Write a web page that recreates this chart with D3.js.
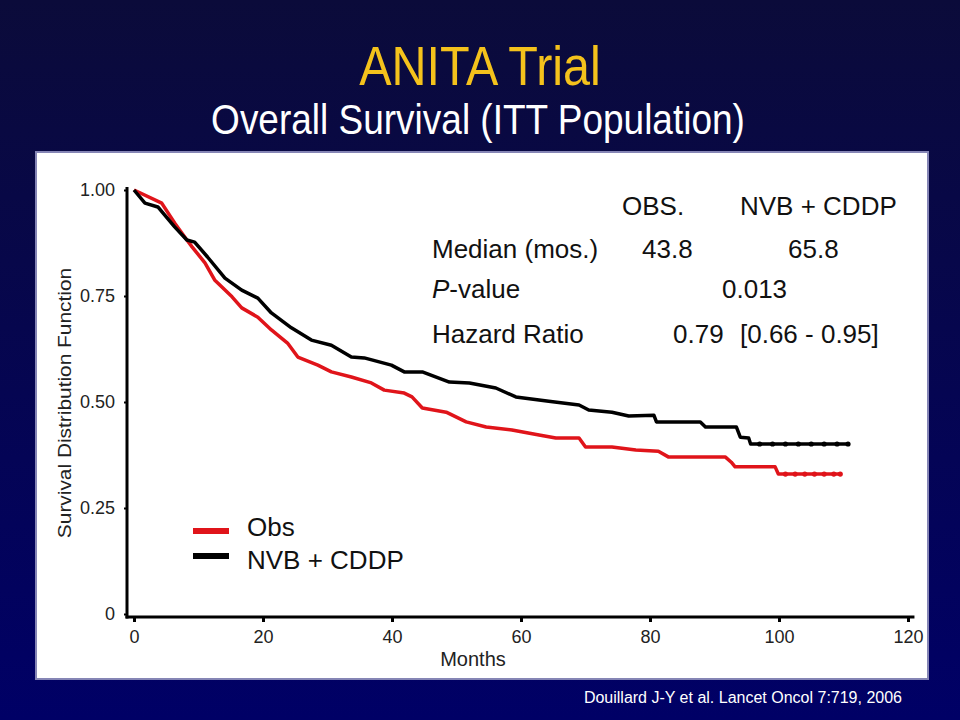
<!DOCTYPE html>
<html>
<head>
<meta charset="utf-8">
<script src="https://cdn.jsdelivr.net/npm/d3@7/dist/d3.min.js"></script>
<style>
  html, body { margin: 0; padding: 0; background: #000050; }
  svg { display: block; }
  text { font-family: Arial, "Liberation Sans", Helvetica, sans-serif; }
</style>
</head>
<body>
<svg id="chart" width="960" height="720"></svg>
<script>
// ---- Data ----
const nvbTime = [0, 1.7, 3.7, 6.3, 8.2, 9.4, 11.4, 14.1, 16.7, 19.2, 21.3, 24.4, 27.5, 30.6, 33.7, 35.7, 39.9, 41.9, 44.7, 48.9, 52.0, 56.1, 59.2, 64.3, 69.0, 70.5, 74.1, 76.7, 80.6, 81.0, 87.8, 88.6, 93.4, 94.0, 95.3, 95.6, 110.7];
const nvbSurv = [1.0, 0.969, 0.960, 0.913, 0.882, 0.877, 0.842, 0.792, 0.764, 0.745, 0.710, 0.675, 0.646, 0.634, 0.606, 0.604, 0.587, 0.571, 0.571, 0.547, 0.545, 0.533, 0.512, 0.502, 0.493, 0.481, 0.476, 0.467, 0.469, 0.453, 0.453, 0.441, 0.441, 0.417, 0.415, 0.401, 0.401];
const obsTime = [0, 4.3, 6.3, 8.2, 9.0, 11.0, 12.5, 15.2, 16.7, 19.2, 21.3, 23.8, 25.4, 28.5, 30.6, 33.7, 36.8, 38.8, 41.9, 43.1, 44.7, 48.4, 51.5, 54.6, 58.6, 62.8, 65.4, 69.0, 70.0, 74.1, 77.8, 81.3, 82.9, 91.7, 92.6, 93.2, 99.4, 99.9, 109.5];
const obsSurv = [1.0, 0.969, 0.922, 0.882, 0.866, 0.828, 0.788, 0.748, 0.722, 0.700, 0.670, 0.639, 0.606, 0.587, 0.571, 0.559, 0.545, 0.528, 0.521, 0.512, 0.486, 0.476, 0.453, 0.441, 0.434, 0.422, 0.415, 0.415, 0.394, 0.394, 0.387, 0.384, 0.370, 0.370, 0.358, 0.347, 0.347, 0.330, 0.330];
// censor marks visible on the tails
const nvbCensor = [97, 99, 101, 103, 105, 107, 109, 110.7];
const obsCensor = [101, 102.5, 104, 105.5, 107, 108.5, 109.5];

const xTicks = [0, 20, 40, 60, 80, 100, 120];
const yTicks = [0, 0.25, 0.5, 0.75, 1.0];
const yTickLabels = ["0", "0.25", "0.50", "0.75", "1.00"];

const seriesNames = ["Obs", "NVB + CDDP"];
const seriesColors = ["#e0141a", "#000000"];

const statHeader = ["OBS.", "NVB + CDDP"];
const statMedian = ["43.8", "65.8"];
const statP = "0.013";
const statHR = ["0.79", "[0.66 - 0.95]"];

// ---- Drawing ----
const svg = d3.select("#chart");
const defs = svg.append("defs");
const grad = defs.append("linearGradient").attr("id", "bg").attr("x1", 0).attr("y1", 0).attr("x2", 0).attr("y2", 1);
grad.append("stop").attr("offset", "0%").attr("stop-color", "#0b0b3a");
grad.append("stop").attr("offset", "100%").attr("stop-color", "#000066");
svg.append("rect").attr("width", 960).attr("height", 720).attr("fill", "url(#bg)");

// white panel
svg.append("rect").attr("x", 36).attr("y", 152).attr("width", 892).attr("height", 527)
  .attr("fill", "#ffffff").attr("stroke", "#8585b5").attr("stroke-width", 2);

// titles
svg.append("text").attr("transform", "translate(480,85) scale(1,1.13)")
  .attr("text-anchor", "middle").attr("font-size", 48.5).attr("fill", "#f4c21c")
  .text("ANITA Trial");
svg.append("text").attr("transform", "translate(478,134) scale(1,1.15)")
  .attr("text-anchor", "middle").attr("font-size", 37).attr("fill", "#ffffff")
  .text("Overall Survival (ITT Population)");

// scales
const x = d3.scaleLinear().domain([0, 120]).range([134, 908]);
const y = d3.scaleLinear().domain([0, 1]).range([614, 190]);

// axes
const xAxis = d3.axisBottom(x).tickValues(xTicks).tickFormat(d3.format("d")).tickSize(5).tickSizeOuter(0).tickPadding(8);
const gx = svg.append("g").attr("transform", `translate(0,${y(0) + 3})`).call(xAxis);
gx.select(".domain").remove();
gx.selectAll(".tick line").attr("stroke", "#000").attr("stroke-width", 3);
gx.selectAll(".tick text").attr("font-size", 18).attr("fill", "#222").attr("font-family", "Arial, 'Liberation Sans', sans-serif");

const yAxis = d3.axisLeft(y).tickValues(yTicks).tickFormat((d, i) => yTickLabels[i]).tickSize(3).tickSizeOuter(0).tickPadding(9);
const gy = svg.append("g").attr("transform", `translate(127,0)`).call(yAxis);
gy.select(".domain").remove();
gy.selectAll(".tick line").attr("stroke", "#000").attr("stroke-width", 2);
gy.selectAll(".tick text").attr("font-size", 18).attr("fill", "#222").attr("font-family", "Arial, 'Liberation Sans', sans-serif");

// axis lines
svg.append("line").attr("x1", 127).attr("x2", 127).attr("y1", y(1) - 3).attr("y2", y(0) + 4.5)
  .attr("stroke", "#000").attr("stroke-width", 3);
svg.append("line").attr("x1", 125.5).attr("x2", x(121)).attr("y1", y(0) + 3).attr("y2", y(0) + 3)
  .attr("stroke", "#000").attr("stroke-width", 3);

// axis titles
svg.append("text").attr("transform", "translate(71,403) rotate(-90) scale(1.16,1)")
  .attr("text-anchor", "middle").attr("font-size", 18).attr("fill", "#222")
  .text("Survival Distribution Function");
svg.append("text").attr("x", 473).attr("y", 666).attr("text-anchor", "middle")
  .attr("font-size", 20).attr("fill", "#222").text("Months");

// curves
const line = d3.line().x(d => x(d[0])).y(d => y(d[1])).curve(d3.curveLinear);
const obsData = obsTime.map((t, i) => [t, obsSurv[i]]);
const nvbData = nvbTime.map((t, i) => [t, nvbSurv[i]]);

function survAt(times, surv, t) {
  let s = surv[0];
  for (let i = 0; i < times.length; i++) { if (times[i] <= t) s = surv[i]; }
  return s;
}

svg.append("path").datum(obsData).attr("d", line).attr("fill", "none")
  .attr("stroke", seriesColors[0]).attr("stroke-width", 3.5).attr("stroke-linejoin", "round");
svg.append("path").datum(nvbData).attr("d", line).attr("fill", "none")
  .attr("stroke", seriesColors[1]).attr("stroke-width", 3.5).attr("stroke-linejoin", "round");

svg.selectAll(".cobs").data(obsCensor).enter().append("circle")
  .attr("cx", d => x(d)).attr("cy", d => y(survAt(obsTime, obsSurv, d))).attr("r", 2.6)
  .attr("fill", seriesColors[0]);
svg.selectAll(".cnvb").data(nvbCensor).enter().append("circle")
  .attr("cx", d => x(d)).attr("cy", d => y(survAt(nvbTime, nvbSurv, d))).attr("r", 2.6)
  .attr("fill", seriesColors[1]);

// legend
const legY = [531, 556];
const legTextY = [536, 569];
seriesNames.forEach((name, i) => {
  svg.append("line").attr("x1", 193).attr("x2", 229).attr("y1", legY[i]).attr("y2", legY[i])
    .attr("stroke", seriesColors[i]).attr("stroke-width", 6);
  svg.append("text").attr("x", 247).attr("y", legTextY[i])
    .attr("font-size", 26).attr("fill", "#111").text(name);
});

// stats block
const fs = 26;
const addT = (tx, tx0, ty) => svg.append("text").attr("x", tx0).attr("y", ty).attr("font-size", fs).attr("fill", "#111").text(tx);
addT(statHeader[0], 622, 215);
addT(statHeader[1], 740, 215);
addT("Median (mos.)", 432, 258);
addT(statMedian[0], 642, 258);
addT(statMedian[1], 788, 258);
const pt = svg.append("text").attr("x", 432).attr("y", 298).attr("font-size", fs).attr("fill", "#111");
pt.append("tspan").attr("font-style", "italic").text("P");
pt.append("tspan").text("-value");
addT(statP, 722, 298);
addT("Hazard Ratio", 432, 343);
addT(statHR[0], 673, 343);
addT(statHR[1], 740, 343);

// citation
svg.append("text").attr("x", 902).attr("y", 703).attr("text-anchor", "end")
  .attr("font-size", 16).attr("fill", "#ffffff").text("Douillard J-Y et al.  Lancet Oncol 7:719, 2006");
</script>
</body>
</html>
